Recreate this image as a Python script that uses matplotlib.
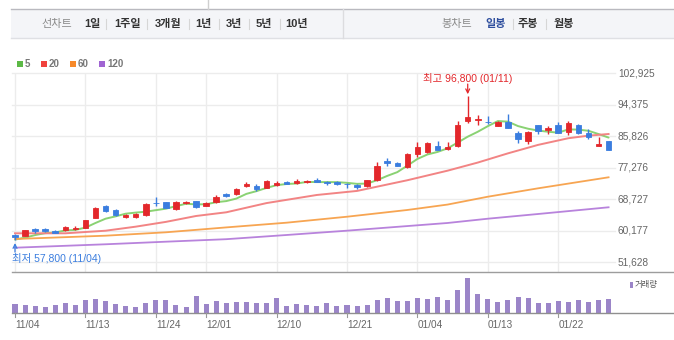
import matplotlib
matplotlib.use('Agg')
import matplotlib.pyplot as plt
import matplotlib.transforms as mtransforms
from matplotlib.patches import Rectangle
from matplotlib.lines import Line2D
import pandas as pd

plt.rcParams['font.family'] = ['Liberation Sans', 'Noto Sans CJK KR', 'DejaVu Sans']

# ---------------- data ----------------
dates = ['11/04', '11/05', '11/06', '11/09', '11/10', '11/11', '11/12', '11/13', '11/16', '11/17',
         '11/18', '11/19', '11/20', '11/23', '11/24', '11/25', '11/26', '11/27', '11/30', '12/01',
         '12/02', '12/03', '12/04', '12/07', '12/08', '12/09', '12/10', '12/11', '12/14', '12/15',
         '12/16', '12/17', '12/18', '12/21', '12/22', '12/23', '12/24', '12/28', '12/29', '12/30',
         '01/04', '01/05', '01/06', '01/07', '01/08', '01/11', '01/12', '01/13', '01/14', '01/15',
         '01/18', '01/19', '01/20', '01/21', '01/22', '01/25', '01/26', '01/27', '01/28', '01/29']

opens = [59000, 58800, 60700, 60700, 60200, 60300, 60700, 61000, 63700, 67000,
         65700, 63800, 63800, 64500, 67700, 67900, 66000, 67800, 68300, 67000,
         67900, 70300, 70100, 72400, 72300, 71900, 72600, 73500, 73100, 73400,
         74100, 73300, 73400, 73000, 72700, 72300, 73900, 79000, 78700, 77400,
         81000, 81600, 83300, 82400, 83300, 90000, 90300, 89800, 88700, 89800,
         86600, 84500, 89000, 87500, 89000, 87000, 88800, 86600, 83200, 84500]
highs = [59300, 60500, 61000, 60900, 60400, 61600, 61400, 63200, 66700, 67300,
         66200, 64800, 64900, 67800, 69300, 68000, 68200, 68400, 68400, 68000,
         69800, 70500, 71900, 73500, 72900, 73900, 73700, 73700, 74300, 73900,
         74400, 73700, 73600, 73200, 73000, 74000, 78800, 80000, 78900, 81300,
         84400, 84200, 84500, 84200, 90000, 96800, 91500, 91200, 90000, 91800,
         87300, 87400, 89000, 88600, 89700, 89900, 89200, 87700, 85600, 84600]
lows = [57800, 58700, 59600, 59800, 59500, 60000, 60400, 60900, 63600, 65400,
        64300, 63600, 63600, 64300, 67000, 66300, 65800, 67500, 66400, 66800,
        67800, 69300, 70000, 72000, 71100, 71800, 72300, 72800, 72800, 73200,
        73300, 72600, 72700, 71900, 71600, 72100, 73800, 77800, 77700, 77300,
        80200, 81200, 82000, 82100, 83000, 89500, 88800, 89100, 88700, 88000,
        84100, 83800, 86500, 86500, 86800, 86300, 86500, 85100, 83200, 82000]
closes = [58500, 60300, 60100, 60000, 59700, 61300, 61000, 63200, 66300, 65500,
          64500, 64600, 64700, 67500, 67600, 66500, 68000, 68000, 66600, 67800,
          69300, 69500, 71400, 73000, 71500, 73700, 73200, 73000, 73700, 73600,
          73500, 73200, 72900, 72800, 72200, 73900, 77800, 78700, 77900, 81000,
          83000, 83900, 82100, 82800, 88800, 91000, 90600, 89700, 89700, 88000,
          85000, 87000, 87200, 88100, 86800, 89400, 86700, 85600, 83700, 82000]
# closes of the 4 sessions before the window (for the 5-day average)
prior_closes = [57700, 56600, 57400, 58800]
volumes = [23, 21, 18, 15.5, 21, 26, 21, 33.5, 38, 31,
           23, 18, 15.5, 27.5, 33.5, 33.5, 21, 15.5, 45, 23,
           31, 26, 28.5, 28.5, 26, 26, 40.5, 18, 23, 21,
           18, 26, 18, 21, 18, 21, 33.5, 40.5, 31, 31,
           40.5, 36, 43, 33.5, 60, 90, 50, 38, 28.5, 33.5,
           42, 40.5, 26, 26, 31, 28.5, 33.5, 28.5, 33.5, 38]

ma20_dates = ['11/04', '11/11', '11/17', '11/20', '11/25', '11/30', '12/03', '12/09', '12/16',
              '12/22', '12/30', '01/07', '01/12', '01/15', '01/20', '01/25', '01/27', '01/29']
ma20_vals = [59500, 59500, 60200, 61300, 62600, 64200, 65200, 67700, 69900,
             71000, 73900, 76500, 78700, 81200, 83500, 85300, 86000, 86450]
ma60_dates = ['11/04', '11/17', '11/25', '12/03', '12/11', '12/21', '12/30', '01/07', '01/13', '01/20', '01/29']
ma60_vals = [57950, 58850, 59770, 61100, 62380, 64000, 65830, 67300, 69430, 71710, 74700]
ma120_dates = ['11/04', '11/17', '11/25', '12/03', '12/11', '12/21', '01/07', '01/13', '01/20', '01/29']
ma120_vals = [55590, 56520, 57220, 57900, 59040, 60210, 62300, 63460, 64740, 66560]

tick_labels = ['11/04', '11/13', '11/24', '12/01', '12/10', '12/21', '01/04', '01/13', '01/22']
y_ticks = [51628, 60177, 68727, 77276, 85826, 94375, 102925]
y_tick_labels = ['51,628', '60,177', '68,727', '77,276', '85,826', '94,375', '102,925']

legend_names = ['5', '20', '60', '120']
header_left = ['1일', '1주일', '3개월', '1년', '3년', '5년', '10년']
header_right = ['일봉', '주봉', '월봉']

# ---------------- styles ----------------
W, H = 674, 340
RED = '#e3272b'
BLUE = '#3a7ddf'
C_MA5, C_MA20, C_MA60, C_MA120 = '#8ad273', '#f28484', '#f7a552', '#b883dc'
LEG_COLORS = ['#5cb946', '#f0423d', '#f7892a', '#a064d2']
VOL = '#9b85c8'
GRID = '#ececec'
LBL = '#666666'

fig = plt.figure(figsize=(W / 100, H / 100), dpi=100)


def fx(px):
    return px / W


def fy(py):
    return 1 - py / H


# ---------------- header ----------------
fig.patches.append(Rectangle((fx(11), fy(37.5)), fx(674) - fx(11), fy(9.3) - fy(37.5),
                             transform=fig.transFigure, facecolor='#f4f5f8', edgecolor='none', zorder=0))
fig.lines.append(Line2D([fx(11), 1], [fy(9.3), fy(9.3)], transform=fig.transFigure, color='#b9b9bf', lw=1))
fig.lines.append(Line2D([fx(11), 1], [fy(37.5), fy(37.5)], transform=fig.transFigure, color='#dfe0e4', lw=1))
fig.lines.append(Line2D([fx(208), fx(208)], [fy(0), fy(9.3)], transform=fig.transFigure, color='#cfcfcf', lw=1))
fig.lines.append(Line2D([fx(343), fx(343)], [fy(9.3), fy(37.5)], transform=fig.transFigure, color='#dcdcdf', lw=1))

fig.text(fx(56.5), fy(24), '선차트', ha='center', va='center', fontsize=8, color='#8a8a8a')
left_centers = [92.7, 128, 167.7, 203, 233.5, 264, 297]
for lab, cx in zip(header_left, left_centers):
    fig.text(fx(cx), fy(24), lab, ha='center', va='center', fontsize=8, color='#333333', fontweight='bold')
for sx in [106, 147, 189, 219, 249, 280]:
    fig.lines.append(Line2D([fx(sx), fx(sx)], [fy(19), fy(29)], transform=fig.transFigure, color='#d6d6d6', lw=0.8))
fig.text(fx(457), fy(24), '봉차트', ha='center', va='center', fontsize=8, color='#8a8a8a')
right_centers = [495.6, 528.3, 563.8]
for k, (lab, cx) in enumerate(zip(header_right, right_centers)):
    fig.text(fx(cx), fy(24), lab, ha='center', va='center', fontsize=8,
             color='#2f4f9e' if k == 0 else '#333333', fontweight='bold')
for sx in [512.5, 546]:
    fig.lines.append(Line2D([fx(sx), fx(sx)], [fy(19), fy(29)], transform=fig.transFigure, color='#d6d6d6', lw=0.8))

# ---------------- legend ----------------
leg_sq = [16.7, 40.7, 70, 99.3]
for name, col, sx in zip(legend_names, LEG_COLORS, leg_sq):
    fig.patches.append(Rectangle((fx(sx), fy(67)), fx(6), 6 / H, transform=fig.transFigure,
                                 facecolor=col, edgecolor='none'))
    fig.text(fx(sx + 8), fy(64.2), name, ha='left', va='center', fontsize=7, color='#777777',
             fontweight='bold')

# ---------------- main price axes ----------------
x = list(range(len(dates)))
xl = (-0.298, 59.64)
ax = fig.add_axes([fx(12), fy(272.3), fx(615) - fx(12), fy(73.3) - fy(272.3)])
ax.set_xlim(*xl)
ax.set_ylim(48914, 102925)
ax.axis('off')

for v in y_ticks:
    ax.axhline(v, color=GRID, lw=1, zorder=0, clip_on=False)
tick_pos = [dates.index(d) for d in tick_labels]
for p in tick_pos:
    ax.axvline(p, color=GRID, lw=1, zorder=0)

# moving averages
all_close = pd.Series(prior_closes + closes)
ma5 = all_close.rolling(5).mean().iloc[len(prior_closes):].to_numpy()
ax.plot(x, ma5, color=C_MA5, lw=1.4, zorder=2, solid_capstyle='round')
ax.plot([dates.index(d) for d in ma20_dates], ma20_vals, color=C_MA20, lw=1.4, zorder=2)
ax.plot([dates.index(d) for d in ma60_dates], ma60_vals, color=C_MA60, lw=1.3, zorder=2)
ax.plot([dates.index(d) for d in ma120_dates], ma120_vals, color=C_MA120, lw=1.3, zorder=2)

# candles
cols = [RED if c >= o else BLUE for o, c in zip(opens, closes)]
ax.vlines(x, lows, highs, colors=cols, lw=1, zorder=3)
bottoms = [min(o, c) for o, c in zip(opens, closes)]
heights = [abs(c - o) for o, c in zip(opens, closes)]
ax.bar(x, heights, bottom=bottoms, width=0.55, color=cols, edgecolor=cols, linewidth=0.6, zorder=4)

# y labels
tr = mtransforms.blended_transform_factory(fig.transFigure, ax.transData)
for v, lab in zip(y_ticks, y_tick_labels):
    fig.text(fx(618), v, lab, transform=tr, ha='left', va='center', fontsize=7.3, color=LBL)

# max / min annotations
imax = highs.index(max(highs))
imin = lows.index(min(lows))
ax.annotate('', xy=(imax, max(highs)), xytext=(0, 8.5), textcoords='offset points',
            arrowprops=dict(arrowstyle='->', color=RED, lw=0.9, shrinkA=0, shrinkB=1.2,
                            mutation_scale=7), zorder=5)
ax.annotate('최고 {:,} ({})'.format(max(highs), dates[imax]), xy=(imax, max(highs)),
            xytext=(0, 12.8), textcoords='offset points', ha='center', va='center',
            fontsize=7.5, color=RED, annotation_clip=False)
ax.annotate('', xy=(imin, min(lows)), xytext=(0, -9), textcoords='offset points',
            arrowprops=dict(arrowstyle='->', color=BLUE, lw=0.9, shrinkA=0, shrinkB=2.5,
                            mutation_scale=7), zorder=5)
ax.annotate('최저 {:,} ({})'.format(min(lows), dates[imin]), xy=(imin, min(lows)),
            xytext=(-2.2, -13.6), textcoords='offset points', ha='left', va='center',
            fontsize=7.5, color=BLUE, annotation_clip=False)

# ---------------- volume axes ----------------
axv = fig.add_axes([fx(12), fy(313.3), fx(615) - fx(12), fy(272.3) - fy(313.3)])
axv.set_xlim(*xl)
axv.set_ylim(0, 105.4)
axv.axis('off')
axv.bar(x, volumes, width=0.5, color=VOL, zorder=2)

# separator lines
fig.lines.append(Line2D([fx(11.7), 1], [fy(272.3), fy(272.3)], transform=fig.transFigure, color='#9d9d9d', lw=1))
fig.lines.append(Line2D([fx(11.7), 1], [fy(313.3), fy(313.3)], transform=fig.transFigure, color='#8f8f8f', lw=1))

trv = mtransforms.blended_transform_factory(axv.transData, fig.transFigure)
for p, lab in zip(tick_pos, tick_labels):
    fig.lines.append(Line2D([p, p], [fy(313.3), fy(317)], transform=trv, color='#999999', lw=0.8))
    fig.text(p, fy(325), lab, transform=trv, ha='left', va='center', fontsize=7.2, color=LBL)

fig.patches.append(Rectangle((fx(630), fy(287.5)), fx(2.5), 6 / H, transform=fig.transFigure,
                             facecolor=VOL, edgecolor='none'))
fig.text(fx(635), fy(284.5), '거래량', ha='left', va='center', fontsize=6, color='#555555')

fig.savefig('out.png', dpi=100)
